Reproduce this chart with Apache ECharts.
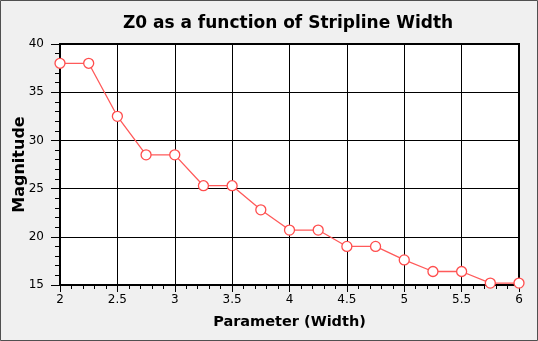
<!DOCTYPE html>
<html><head><meta charset="utf-8">
<script src="https://cdn.jsdelivr.net/npm/echarts@6/dist/echarts.min.js"></script>
<style>html,body{margin:0;padding:0;background:#f0f0f0;}#c{width:538px;height:341px;}</style>
</head><body><div id="c"></div>
<script>
const widths = [2, 2.25, 2.5, 2.75, 3, 3.25, 3.5, 3.75, 4, 4.25, 4.5, 4.75, 5, 5.25, 5.5, 5.75, 6];
const z0 = [38, 38, 32.5, 28.5, 28.5, 25.3, 25.3, 22.8, 20.7, 20.7, 19.0, 19.0, 17.6, 16.4, 16.4, 15.2, 15.2];
const titleText = 'Z0 as a function of Stripline Width';
const xName = 'Parameter (Width)';
const yName = 'Magnitude';

const chart = echarts.init(document.getElementById('c'), null, {renderer: 'canvas'});
const font = 'DejaVu Sans, Verdana, sans-serif';
chart.setOption({
  backgroundColor: '#f0f0f0',
  animation: false,
  title: {text: titleText, left: 283, top: 10, textAlign: 'center',
    textStyle: {fontFamily: font, fontSize: 17, fontWeight: 'bold', color: '#000'}},
  graphic: [{type: 'rect', shape: {x: 0.5, y: 0.5, width: 537, height: 340},
    style: {fill: 'none', stroke: '#505050', lineWidth: 1}, silent: true}],
  grid: {left: 60, top: 44, right: 19, bottom: 56, show: true, backgroundColor: '#fff',
    borderColor: '#000', borderWidth: 2, containLabel: false, outerBoundsMode: 'none'},
  xAxis: {type: 'value', min: 2, max: 6, interval: 0.5,
    name: xName, nameLocation: 'middle', nameGap: 30, nameMoveOverlap: false,
    nameTextStyle: {fontFamily: font, fontSize: 14.5, fontWeight: 'bold', color: '#000'},
    axisLine: {lineStyle: {color: '#000', width: 2}},
    axisTick: {show: true, length: 7, lineStyle: {color: '#000'}},
    minorTick: {show: true, splitNumber: 5, length: 4, lineStyle: {color: '#000'}},
    axisLabel: {fontFamily: font, fontSize: 12, color: '#000', margin: 9},
    splitLine: {show: true, lineStyle: {color: '#000', width: 1}}},
  yAxis: {type: 'value', min: 15, max: 40, interval: 5,
    name: yName, nameLocation: 'middle', nameGap: 32, nameMoveOverlap: false,
    nameTextStyle: {fontFamily: font, fontSize: 16, fontWeight: 'bold', color: '#000'},
    axisLine: {show: true, lineStyle: {color: '#000', width: 2}},
    axisTick: {show: true, length: 9, lineStyle: {color: '#000'}},
    minorTick: {show: true, splitNumber: 5, length: 5, lineStyle: {color: '#000'}},
    axisLabel: {fontFamily: font, fontSize: 12, color: '#000', margin: 16},
    splitLine: {show: true, lineStyle: {color: '#000', width: 1}}},
  series: [{type: 'line', data: widths.map((w, i) => [w, z0[i]]),
    symbol: 'circle', symbolSize: 10, showAllSymbol: true,
    lineStyle: {color: '#ff5a5a', width: 1.3},
    itemStyle: {color: '#fff', borderColor: '#ff4d4d', borderWidth: 1.3}}]
});
</script></body></html>
